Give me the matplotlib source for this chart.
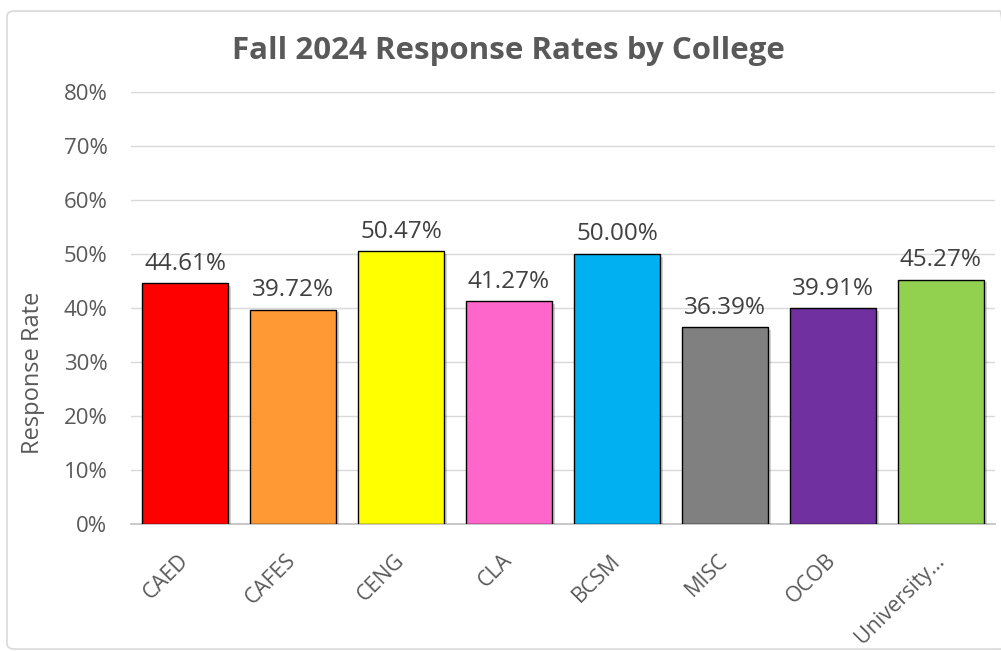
"""
Fall 2024 response rates by college - bar chart
"""
import matplotlib
matplotlib.use('Agg')
import matplotlib.pyplot as plt
import matplotlib.patheffects as pe
from matplotlib.patches import FancyBboxPatch
from matplotlib.ticker import PercentFormatter

plt.rcParams['font.family'] = ['Open Sans', 'DejaVu Sans']

# Data
colleges = ["CAED", "CAFES", "CENG", "CLA", "BCSM", "MISC", "OCOB", "University\u2026"]
rates = [44.61, 39.72, 50.47, 41.27, 50.00, 36.39, 39.91, 45.27]
colors = ["#FF0000", "#FF9933", "#FFFF00", "#FF66CC", "#00B0F0", "#808080", "#7030A0", "#92D050"]

text_color = "#595959"

fig = plt.figure(figsize=(10.01, 6.51), dpi=100)

# chart area border
border = FancyBboxPatch((0.007, 0.003), 1.0, 0.98, transform=fig.transFigure,
                        boxstyle="round,pad=0,rounding_size=0.008",
                        facecolor="none", edgecolor="#d9d9d9", linewidth=1.2,
                        zorder=-1)
fig.patches.append(border)

ax = fig.add_axes([0.1309, 0.1951, 0.8631, 0.6636])
ax.set_facecolor("none")

x = range(len(colleges))
bars = ax.bar(x, rates, width=0.8, color=colors, edgecolor="black", linewidth=1.0,
              zorder=3)
for b in bars:
    b.set_path_effects([pe.SimplePatchShadow(offset=(2, -2), alpha=0.18, shadow_rgbFace="#000000"),
                        pe.Normal()])

for xi, v in zip(x, rates):
    ax.text(xi, v + 1.4, f"{v:.2f}%", ha="center", va="bottom",
            fontsize=17.5, color="#404040")

ax.set_xlim(-0.5, len(colleges) - 0.5)
ax.set_ylim(0, 80)
ax.set_yticks(range(0, 81, 10))
ax.yaxis.set_major_formatter(PercentFormatter(decimals=0))
ax.grid(axis="y", color="#d9d9d9", linewidth=1.0, zorder=0)
ax.set_axisbelow(True)

for s in ["top", "right", "left"]:
    ax.spines[s].set_visible(False)
ax.spines["bottom"].set_color("#bfbfbf")
ax.spines["bottom"].set_linewidth(1.2)

ax.tick_params(axis="both", length=0, labelsize=16, labelcolor=text_color)
ax.tick_params(axis="y", pad=17)
ax.set_xticks(list(x))
ax.set_xticklabels(colleges, rotation=45, ha="right", va="center",
                   rotation_mode="anchor", fontsize=15.5)
ax.tick_params(axis="x", pad=24)

ax.set_ylabel("Response Rate", fontsize=17, color=text_color)
ax.yaxis.set_label_coords(-0.0995, 0.351)

fig.suptitle("Fall 2024 Response Rates by College", x=0.508, y=0.945,
             fontsize=22.5, fontweight="bold", color=text_color)

fig.savefig("out.png", dpi=100)
